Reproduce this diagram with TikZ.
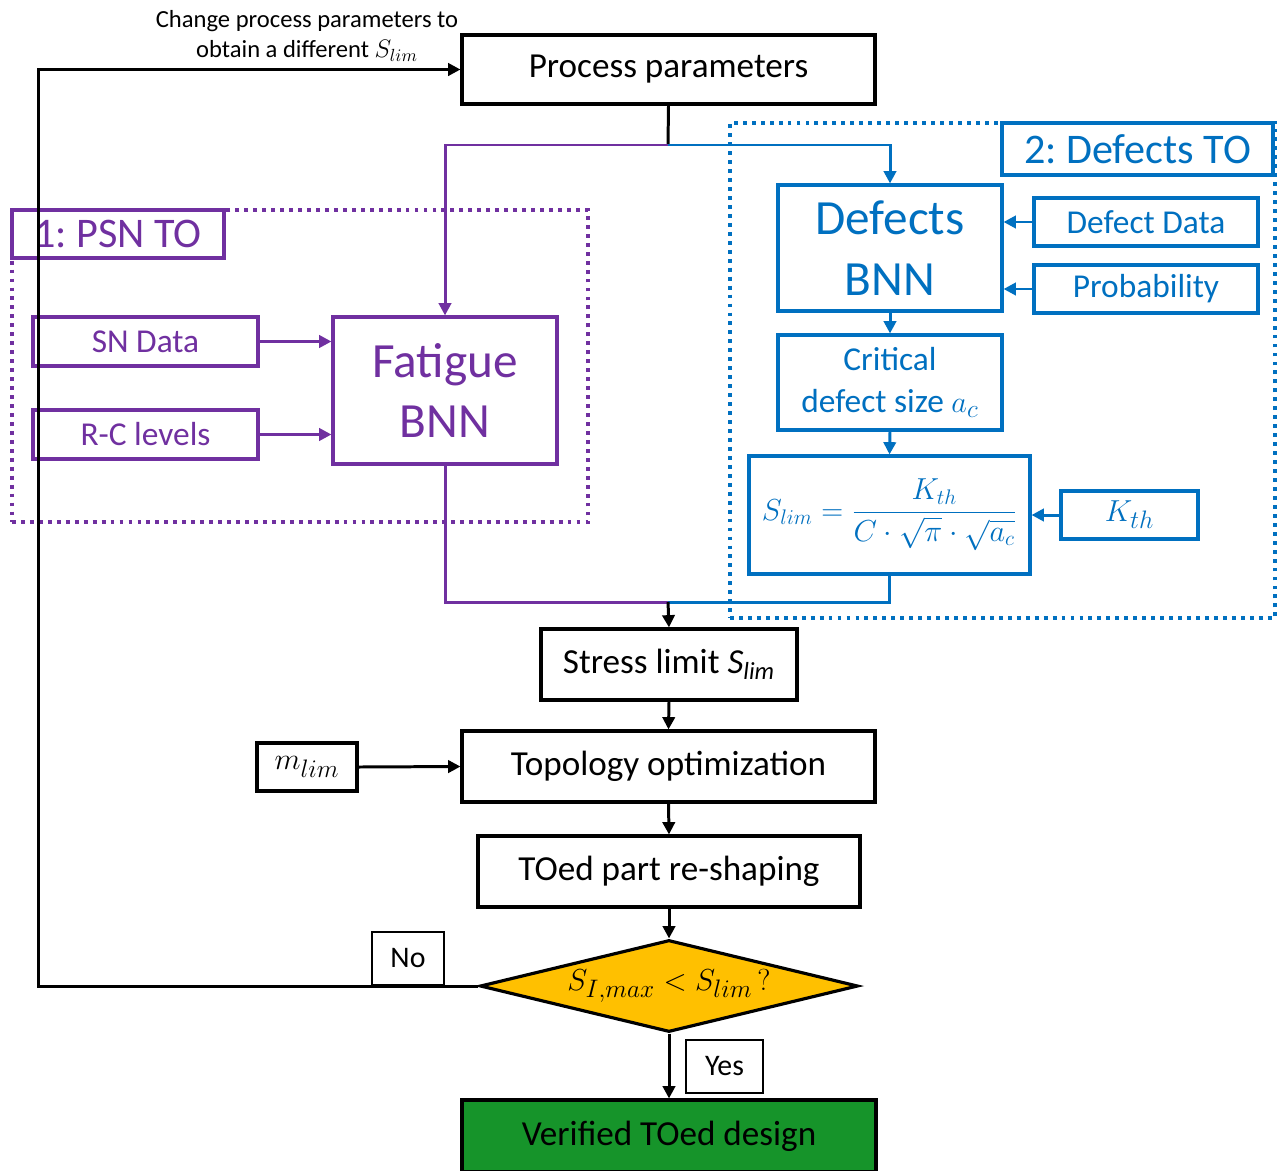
\documentclass[tikz,border=0pt]{standalone}
\usepackage{fontspec}
\setmainfont{Carlito}
\usepackage{amsmath}
\usetikzlibrary{positioning,
        shapes.geometric,
        arrows.meta,
        fit}
\usepackage{xcolor}
\definecolor{psnpurple}{RGB}{112,48,160}
\definecolor{defblue}{RGB}{0,112,192}
\definecolor{checkgold}{RGB}{255,192,0}
\definecolor{okgreen}{RGB}{22,148,42}
\newcommand{\fs}[2]{\fontsize{#1}{#2}\selectfont}

\begin{document}
\frenchspacing
\begin{tikzpicture}[x=0.02cm, y=-0.02cm,
    stepbox/.style={rectangle, draw, line width=1.8pt, inner sep=0pt, align=center, fill=white},
    psnbox/.style={stepbox, draw=psnpurple, text=psnpurple},
    defbox/.style={stepbox, draw=defblue, text=defblue},
    zonebox/.style={rectangle, draw, line width=2.3pt, dash pattern=on 2.2pt off 2.9pt, inner sep=0pt},
    zonelabel/.style={rectangle, line width=2.6pt, inner sep=0pt, fill=white},
    tagbox/.style={rectangle, draw, line width=0.8pt, inner sep=0pt, fill=white, font=\fs{17}{20}},
    flow/.style={line width=1.7pt, -{Triangle[length=7pt, width=7pt]}},
    link/.style={line width=1.7pt}]

    \useasboundingbox (0,0) rectangle (1277,1170);

    % main chain
    \node [stepbox, minimum width=8.26cm, minimum height=1.38cm, font=\fs{20}{24}] (proc) at (668.5,69.5) {Process parameters};
    \node [align=center, font=\fs{14}{17}] (note) at (307,36) {Change process parameters to\\obtain a different $S_{lim}$};

    % 1: PSN TO
    \node [zonebox, draw=psnpurple, minimum width=11.52cm, minimum height=6.24cm] (psnzone) at (300,366) {};
    \node [zonelabel, draw=psnpurple, text=psnpurple, minimum width=4.24cm, minimum height=0.96cm, font=\fs{24}{28}] (psnlabel) at (118,234) {1: PSN TO};
    \node [psnbox, minimum width=4.5cm, minimum height=0.98cm, font=\fs{19}{23}] (sndata) at (145.5,341.5) {SN Data};
    \node [psnbox, minimum width=4.5cm, minimum height=0.98cm, font=\fs{19}{23}] (rclev) at (145.5,434.5) {R-C levels};
    \node [psnbox, minimum width=4.48cm, minimum height=2.94cm, font=\fs{28}{34}] (fatigue) at (445,390.5) {Fatigue\\BNN};

    % 2: Defects TO
    \node [zonebox, draw=defblue, minimum width=10.9cm, minimum height=9.9cm] (defzone) at (1002.5,370.5) {};
    \node [zonelabel, draw=defblue, text=defblue, minimum width=5.42cm, minimum height=1.04cm, font=\fs{24}{28}] (deflabel) at (1137.5,149) {2: Defects TO};
    \node [defbox, minimum width=4.48cm, minimum height=2.52cm, font=\fs{28}{35}] (defbnn) at (890,248) {Defects\\BNN};
    \node [defbox, minimum width=4.48cm, minimum height=0.96cm, font=\fs{19}{23}] (defdata) at (1146,222) {Defect Data};
    \node [defbox, minimum width=4.48cm, minimum height=0.96cm, font=\fs{19}{23}] (prob) at (1146,289) {Probability};
    \node [defbox, minimum width=4.48cm, minimum height=1.9cm, font=\fs{19}{24}] (crit) at (890,382.5) {Critical\\defect size $a_c$};
    \node [defbox, minimum width=5.62cm, minimum height=2.36cm, font=\fs{16.5}{20}] (formula) at (889.5,515) {$S_{lim}=\dfrac{K_{th}}{C\cdot\sqrt{\pi}\cdot\sqrt{a_c}}$};
    \node [defbox, minimum width=2.74cm, minimum height=0.96cm, font=\fs{19}{24}] (kth) at (1129.5,515) {$K_{th}$};

    \node [stepbox, minimum width=5.12cm, minimum height=1.42cm, font=\fs{20}{24}] (stress) at (669,664.5) {Stress limit \textit{S}\textsubscript{\textit{lim}}};
    \node [stepbox, minimum width=8.26cm, minimum height=1.42cm, font=\fs{20}{24}] (topo) at (668.5,766.5) {Topology optimization};
    \node [stepbox, minimum width=2.0cm, minimum height=0.96cm, font=\fs{19}{24}] (mlim) at (307,767) {$m_{lim}$};
    \node [stepbox, minimum width=7.64cm, minimum height=1.42cm, font=\fs{20}{24}] (reshape) at (669,871.5) {TOed part re-shaping};
    \node [diamond, draw, line width=1.8pt, fill=checkgold, shape aspect=4.1, inner sep=0pt,
           minimum width=7.56cm, minimum height=1.84cm, font=\fs{19}{24}] (check) at (669,986) {$S_{I,max}<S_{lim}\,?$};
    \node [stepbox, fill=okgreen, minimum width=8.28cm, minimum height=1.44cm, font=\fs{20}{24}] (verified) at (669,1136) {Verified TOed design};

    \node [tagbox, minimum width=1.44cm, minimum height=1.06cm] (nolab) at (408,958.5) {No};
    \node [tagbox, minimum width=1.54cm, minimum height=1.06cm] (yeslab) at (724.5,1066.5) {Yes};

    \coordinate (split) at (668,145);
    \coordinate (merge) at (668,602);

    \draw [flow] (check.west) -- ++(-440,0) |- (proc.west);
    \draw [link] (proc.south) -- (split);
    \draw [flow, psnpurple] (split) -| (fatigue.north);
    \draw [flow, defblue] (split) -| (defbnn.north);
    \draw [flow, psnpurple] (sndata.east) -- (sndata.east -| fatigue.west);
    \draw [flow, psnpurple] (rclev.east) -- (rclev.east -| fatigue.west);
    \draw [flow, defblue] (defdata.west) -- (defdata.west -| defbnn.east);
    \draw [flow, defblue] (prob.west) -- (prob.west -| defbnn.east);
    \draw [flow, defblue] (defbnn.south) -- (crit.north);
    \draw [flow, defblue] (crit.south) -- (formula.north);
    \draw [flow, defblue] (kth.west) -- (formula.east);
    \draw [link, psnpurple] (fatigue.south) |- (merge);
    \draw [link, defblue] (formula.south) |- (merge);
    \draw [flow] (merge) -- (stress.north);
    \draw [flow] (stress.south) -- (topo.north);
    \draw [flow] (mlim.east) -- (topo.west);
    \draw [flow] (topo.south) -- (reshape.north);
    \draw [flow] (reshape.south) -- (check.north);
    \draw [flow] (check.south) -- (verified.north);
\end{tikzpicture}
\end{document}
